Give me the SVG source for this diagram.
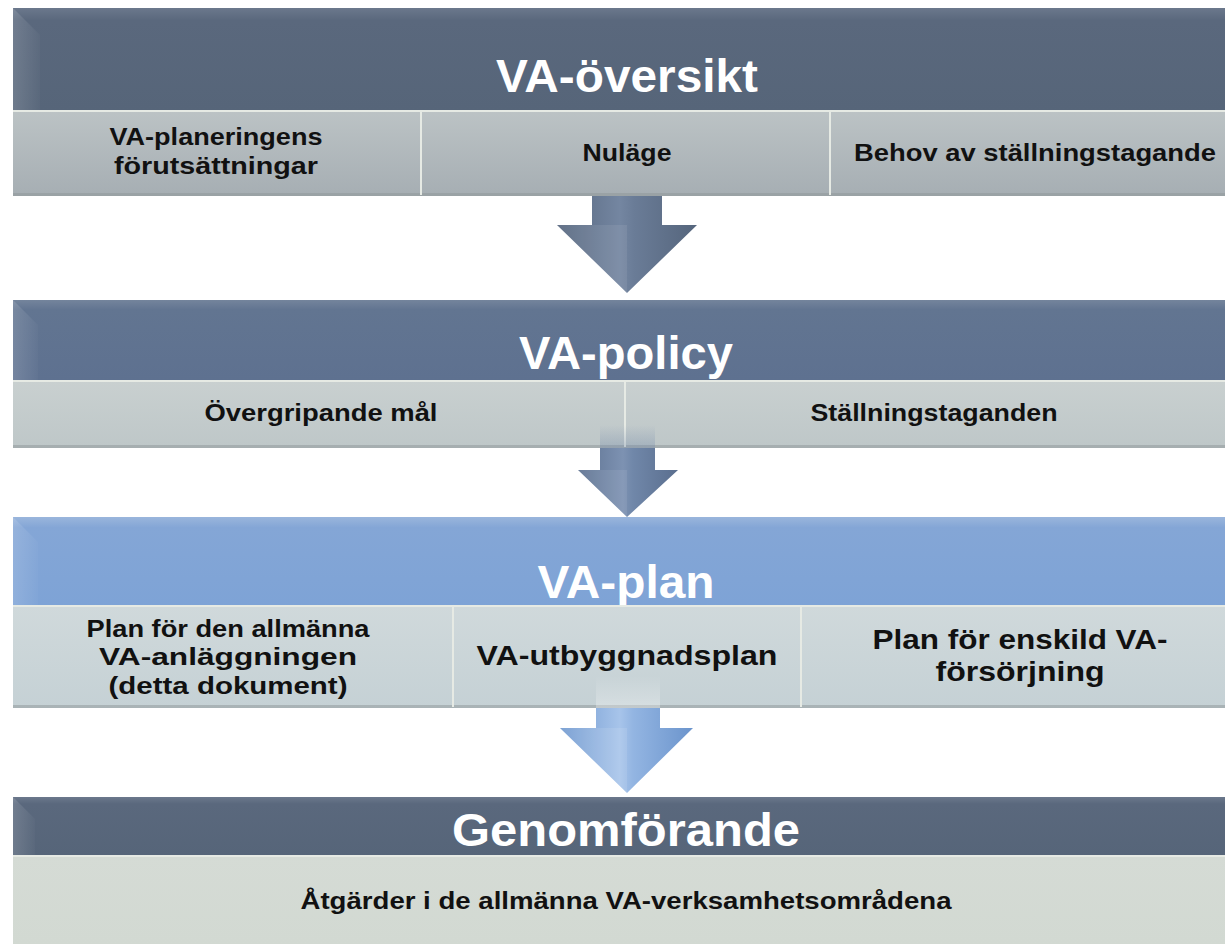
<svg xmlns="http://www.w3.org/2000/svg" width="1225" height="944" viewBox="0 0 1225 944">
<defs>
<linearGradient id="hdrDark" x1="0" y1="0" x2="0" y2="1"><stop offset="0" stop-color="#6b788c"/><stop offset="0.12" stop-color="#5a687d"/><stop offset="1" stop-color="#566579"/></linearGradient>
<linearGradient id="hdrMid" x1="0" y1="0" x2="0" y2="1"><stop offset="0" stop-color="#74849c"/><stop offset="0.12" stop-color="#627591"/><stop offset="1" stop-color="#5e7190"/></linearGradient>
<linearGradient id="hdrLight" x1="0" y1="0" x2="0" y2="1"><stop offset="0" stop-color="#9ab6dc"/><stop offset="0.12" stop-color="#84a6d6"/><stop offset="1" stop-color="#7ea3d6"/></linearGradient>
<linearGradient id="sub1" x1="0" y1="0" x2="0" y2="1"><stop offset="0" stop-color="#bcc3c5"/><stop offset="1" stop-color="#a6aeb3"/></linearGradient>
<linearGradient id="sub2" x1="0" y1="0" x2="0" y2="1"><stop offset="0" stop-color="#c9d0d0"/><stop offset="1" stop-color="#bec7c8"/></linearGradient>
<linearGradient id="sub3" x1="0" y1="0" x2="0" y2="1"><stop offset="0" stop-color="#d0d9db"/><stop offset="1" stop-color="#c5d1d5"/></linearGradient>
<linearGradient id="sub4" x1="0" y1="0" x2="0" y2="1"><stop offset="0" stop-color="#d5dbd5"/><stop offset="1" stop-color="#d2d9d2"/></linearGradient>
<linearGradient id="arrDark" x1="0" y1="0" x2="1" y2="0"><stop offset="0" stop-color="#56667e"/><stop offset="0.45" stop-color="#7486a1"/><stop offset="0.55" stop-color="#6a7c97"/><stop offset="1" stop-color="#55657c"/></linearGradient>
<linearGradient id="arrMid" x1="0" y1="0" x2="1" y2="0"><stop offset="0" stop-color="#5d7190"/><stop offset="0.45" stop-color="#7d92b2"/><stop offset="0.55" stop-color="#7087a9"/><stop offset="1" stop-color="#5a6e8e"/></linearGradient>
<linearGradient id="arrLight" x1="0" y1="0" x2="1" y2="0"><stop offset="0" stop-color="#6f98cf"/><stop offset="0.45" stop-color="#a7c4ea"/><stop offset="0.55" stop-color="#93b5e2"/><stop offset="1" stop-color="#6b94cc"/></linearGradient>
<linearGradient id="fadeMid" x1="0" y1="1" x2="0" y2="0"><stop offset="0" stop-color="#7087a9" stop-opacity="0.35"/><stop offset="1" stop-color="#7087a9" stop-opacity="0"/></linearGradient>
<linearGradient id="fadeLight" x1="0" y1="1" x2="0" y2="0"><stop offset="0" stop-color="#ffffff" stop-opacity="0.3"/><stop offset="1" stop-color="#ffffff" stop-opacity="0"/></linearGradient>
<linearGradient id="bevelGrad" x1="0" y1="0" x2="1" y2="0"><stop offset="0" stop-color="#ffffff" stop-opacity="0.14"/><stop offset="1" stop-color="#ffffff" stop-opacity="0.02"/></linearGradient>
</defs>
<style>
.hdr{font-family:"Liberation Sans",Arial,sans-serif;font-weight:bold;fill:#ffffff;text-anchor:middle}
.sub{font-family:"Liberation Sans",Arial,sans-serif;font-weight:bold;fill:#111111;text-anchor:middle}
.cell{stroke:#e6eae4;stroke-width:2}
.shadow{fill:#8e9597;opacity:0.5}
.bevel{fill:url(#bevelGrad)}
</style>
<rect width="1225" height="944" fill="#ffffff"/>

<g id="connectors">
<g id="arrow1">
<polygon points="592,190 662,190 662,225 697,225 627,293 557,225 592,225" fill="url(#arrDark)"/>
<polygon points="627,225 627,293 557,225" fill="#ffffff" opacity="0.08"/>
</g>
<g id="arrow2">
<polygon points="600,440 655,440 655,470 678,470 627,517 578,470 600,470" fill="url(#arrMid)"/>
<polygon points="627,470 627,517 578,470" fill="#ffffff" opacity="0.08"/>
</g>
<g id="arrow3">
<polygon points="596,700 660,700 660,728 693,728 627,793 560,728 596,728" fill="url(#arrLight)"/>
<polygon points="627,728 627,793 560,728" fill="#ffffff" opacity="0.1"/>
</g>
</g>

<g id="va-oversikt">
<rect x="13" y="8" width="1212" height="102" fill="url(#hdrDark)"/>
<polygon points="13,8 40,35 40,110 13,110" class="bevel"/>
<text class="hdr" x="627" y="92" font-size="47" textLength="262" lengthAdjust="spacingAndGlyphs">VA-översikt</text>
<rect x="13" y="110" width="1212" height="86" fill="url(#sub1)"/>
<rect x="13" y="193" width="1212" height="3" class="shadow"/>
<line x1="13" y1="111" x2="1225" y2="111" class="cell"/>
<line x1="421" y1="111" x2="421" y2="195" class="cell"/>
<line x1="830" y1="111" x2="830" y2="195" class="cell"/>
<text class="sub" x="216" y="145" font-size="23" textLength="213" lengthAdjust="spacingAndGlyphs">VA-planeringens</text>
<text class="sub" x="216" y="174" font-size="23" textLength="204" lengthAdjust="spacingAndGlyphs">förutsättningar</text>
<text class="sub" x="627" y="161" font-size="23" textLength="89" lengthAdjust="spacingAndGlyphs">Nuläge</text>
<text class="sub" x="1035" y="161" font-size="23" textLength="362" lengthAdjust="spacingAndGlyphs">Behov av ställningstagande</text>
</g>

<g id="va-policy">
<rect x="13" y="300" width="1212" height="80" fill="url(#hdrMid)"/>
<polygon points="13,300 38,325 38,380 13,380" class="bevel"/>
<text class="hdr" x="626" y="369" font-size="47" textLength="214" lengthAdjust="spacingAndGlyphs">VA-policy</text>
<rect x="13" y="380" width="1212" height="68" fill="url(#sub2)"/>
<rect x="13" y="445" width="1212" height="3" class="shadow"/>
<line x1="13" y1="381" x2="1225" y2="381" class="cell"/>
<line x1="625" y1="381" x2="625" y2="447" class="cell"/>
<text class="sub" x="321" y="421" font-size="23" textLength="233" lengthAdjust="spacingAndGlyphs">Övergripande mål</text>
<text class="sub" x="934" y="421" font-size="23" textLength="247" lengthAdjust="spacingAndGlyphs">Ställningstaganden</text>
<rect x="600" y="425" width="55" height="23" fill="url(#fadeMid)"/>
</g>

<g id="va-plan">
<rect x="13" y="517" width="1212" height="88" fill="url(#hdrLight)"/>
<polygon points="13,517 38,542 38,605 13,605" class="bevel"/>
<text class="hdr" x="626" y="598" font-size="47" textLength="177" lengthAdjust="spacingAndGlyphs">VA-plan</text>
<rect x="13" y="605" width="1212" height="103" fill="url(#sub3)"/>
<rect x="13" y="705" width="1212" height="3" class="shadow"/>
<line x1="13" y1="606" x2="1225" y2="606" class="cell"/>
<line x1="453" y1="606" x2="453" y2="707" class="cell"/>
<line x1="801" y1="606" x2="801" y2="707" class="cell"/>
<text class="sub" x="228" y="637" font-size="23" textLength="283" lengthAdjust="spacingAndGlyphs">Plan för den allmänna</text>
<text class="sub" x="228" y="665" font-size="23" textLength="258" lengthAdjust="spacingAndGlyphs">VA-anläggningen</text>
<text class="sub" x="228" y="694" font-size="23" textLength="239" lengthAdjust="spacingAndGlyphs">(detta dokument)</text>
<text class="sub" x="627" y="665" font-size="28" textLength="301" lengthAdjust="spacingAndGlyphs">VA-utbyggnadsplan</text>
<text class="sub" x="1020" y="649" font-size="28" textLength="295" lengthAdjust="spacingAndGlyphs">Plan för enskild VA-</text>
<text class="sub" x="1020" y="681" font-size="28" textLength="169" lengthAdjust="spacingAndGlyphs">försörjning</text>
<rect x="596" y="676" width="64" height="32" fill="url(#fadeLight)"/>
</g>

<g id="genomforande">
<rect x="13" y="797" width="1212" height="58" fill="url(#hdrDark)"/>
<polygon points="13,797 35,819 35,855 13,855" class="bevel"/>
<text class="hdr" x="626" y="846" font-size="46" textLength="348" lengthAdjust="spacingAndGlyphs">Genomförande</text>
<rect x="13" y="855" width="1212" height="89" fill="url(#sub4)"/>
<line x1="13" y1="856" x2="1225" y2="856" class="cell"/>
<text class="sub" x="626" y="909" font-size="23" textLength="651" lengthAdjust="spacingAndGlyphs">Åtgärder i de allmänna  VA-verksamhetsområdena</text>
</g>
</svg>
